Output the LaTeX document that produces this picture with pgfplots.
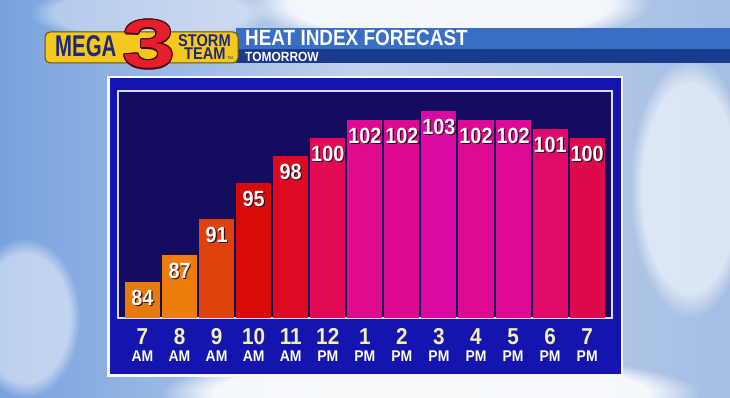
\documentclass[border=0pt]{standalone}
\usepackage{pgfplots}
\pgfplotsset{compat=1.18}
\usepackage{graphicx}
\usepackage{fontspec}
\setmainfont{Liberation Sans}
\newfontfamily\condfont{Liberation Sans}[FakeStretch=0.9]
\usetikzlibrary{fadings}
\definecolor{panelblue}{HTML}{1414AF}
\definecolor{navy}{HTML}{140C5F}
\definecolor{numyel}{HTML}{F2F0B4}
\definecolor{skyL}{HTML}{78A2DE}
\definecolor{skyM}{HTML}{C2D3EA}
\definecolor{skyR}{HTML}{A4BEE4}
\definecolor{titleblue}{HTML}{3A6EC4}
\definecolor{titledark}{HTML}{1A3A8E}
\definecolor{logoyel}{HTML}{F6C81E}
\definecolor{logonavy}{HTML}{1C2A78}
\definecolor{logored}{HTML}{E51E2B}
\definecolor{shadowc}{HTML}{3A0818}
\definecolor{c1}{HTML}{E67A0A}
\definecolor{c2}{HTML}{EE7E0C}
\definecolor{c3}{HTML}{E0420C}
\definecolor{c4}{HTML}{D80A0A}
\definecolor{c5}{HTML}{DE0A24}
\definecolor{c6}{HTML}{E20A55}
\definecolor{c7}{HTML}{E00A8C}
\definecolor{c8}{HTML}{DC0A8E}
\definecolor{c9}{HTML}{D80AA2}
\definecolor{c10}{HTML}{DE0A92}
\definecolor{c11}{HTML}{DE0A94}
\definecolor{c12}{HTML}{E00A68}
\definecolor{c13}{HTML}{DC0A4C}
\newcommand{\shtext}[1]{\makebox[0pt][l]{\hspace{1.2pt}\raisebox{-1.2pt}{\textcolor{shadowc}{#1}}}#1}
\newcommand{\tl}[2]{{\fontsize{23}{17}\selectfont\textcolor{numyel}{#1}}\\{\fontsize{15.5}{17}\selectfont #2}}
\pgfplotsset{hb/.style={fill=#1, draw=none, bar shift=0pt}}
\begin{document}
\begin{tikzpicture}
\useasboundingbox (0pt,0pt) rectangle (730pt,398pt);
% sky
\shade[left color=skyL, right color=skyR, middle color=skyM] (0pt,0pt) rectangle (730pt,398pt);
\fill[white, opacity=0.85, path fading=circle with fuzzy edge 20 percent] (450pt,395pt) ellipse (200pt and 45pt);
\fill[white, opacity=0.9, path fading=circle with fuzzy edge 20 percent] (430pt,5pt) ellipse (270pt and 40pt);
\fill[white, opacity=0.6, path fading=circle with fuzzy edge 20 percent] (690pt,210pt) ellipse (60pt and 130pt);
\fill[white, opacity=0.5, path fading=circle with fuzzy edge 20 percent] (25pt,80pt) ellipse (55pt and 80pt);
\fill[white, opacity=0.4, path fading=circle with fuzzy edge 20 percent] (150pt,385pt) ellipse (120pt and 30pt);
% panel
\fill[white!85!skyM] (107pt,21pt) rectangle (623pt,322pt);
\fill[panelblue] (109.5pt,23.5pt) rectangle (620.5pt,319.5pt);
% title bar
\fill[titleblue] (236pt,349pt) rectangle (730pt,370pt);
\fill[titledark] (236pt,335pt) rectangle (730pt,349pt);
\node[anchor=base west, inner sep=0pt, text=white] at (245pt,352pt)
  {\scalebox{0.86}[1]{\fontsize{22}{22}\selectfont\bfseries HEAT INDEX FORECAST}};
\node[anchor=base west, inner sep=0pt, text=white] at (245pt,336.5pt)
  {\scalebox{0.9}[1]{\fontsize{13.3}{13}\selectfont\bfseries TOMORROW}};
% logo
\draw[fill=logoyel, draw=black!60!logoyel, line width=1pt, rounded corners=5pt] (45pt,335pt) rectangle (238pt,366pt);
\node[anchor=base west, inner sep=0pt, text=logonavy] at (55pt,341pt)
  {\scalebox{0.68}[1]{\fontsize{30}{30}\selectfont\bfseries MEGA}};
\foreach \dx/\dy in {1.3/0,-1.3/0,0/1.3,0/-1.3,1/1,-1/-1,1/-1,-1/1}
  \node[anchor=base, inner sep=0pt, text=black!70!logored] at (149pt+\dx pt,330pt+\dy pt)
    {\scalebox{1.4}[1]{\fontsize{68}{68}\selectfont\bfseries 3}};
\node[anchor=base, inner sep=0pt, text=logored] at (149pt,330pt)
  {\scalebox{1.4}[1]{\fontsize{68}{68}\selectfont\bfseries 3}};
\node[anchor=base west, inner sep=0pt, text=logonavy] at (178pt,351pt)
  {\scalebox{0.86}[1]{\fontsize{17}{17}\selectfont\bfseries STORM}};
\node[anchor=base west, inner sep=0pt, text=logonavy] at (184pt,338pt)
  {\scalebox{0.86}[1]{\fontsize{17}{17}\selectfont\bfseries TEAM}};
\node[anchor=base west, inner sep=0pt, text=logonavy] at (227pt,338pt)
  {\fontsize{4}{4}\selectfont TM};
% chart
\begin{axis}[at={(118pt,80pt)}, anchor=south west, scale only axis,
  width=494pt, height=227pt,
  xmin=-0.66, xmax=12.67, ymin=80, ymax=105.2,
  ybar, bar width=0.945,
  axis background/.style={fill=navy},
  axis line style={white!85!blue, line width=1.3pt},
  ytick=\empty, xtick={0,...,12},
  xticklabels={{\tl{7}{AM}},{\tl{8}{AM}},{\tl{9}{AM}},{\tl{10}{AM}},{\tl{11}{AM}},{\tl{12}{PM}},{\tl{1}{PM}},{\tl{2}{PM}},{\tl{3}{PM}},{\tl{4}{PM}},{\tl{5}{PM}},{\tl{6}{PM}},{\tl{7}{PM}}},
  xticklabel style={align=center, text=white, inner sep=0pt, yshift=-10pt,
    font=\condfont\bfseries\fontsize{15.5}{17}\selectfont},
  major tick length=0pt,
  /pgf/number format/assume math mode=true,
  nodes near coords={\shtext{\pgfmathprintnumber{\pgfplotspointmeta}}},
  every node near coord/.append style={anchor=north, inner sep=0pt, yshift=-8pt,
    font=\condfont\bfseries\fontsize{22}{22}\selectfont, text=white},
  clip=false]
\addplot[hb=c1] coordinates {(0,84)};
\addplot[hb=c2] coordinates {(1,87)};
\addplot[hb=c3] coordinates {(2,91)};
\addplot[hb=c4] coordinates {(3,95)};
\addplot[hb=c5] coordinates {(4,98)};
\addplot[hb=c6] coordinates {(5,100)};
\addplot[hb=c7] coordinates {(6,102)};
\addplot[hb=c8] coordinates {(7,102)};
\addplot[hb=c9] coordinates {(8,103)};
\addplot[hb=c10] coordinates {(9,102)};
\addplot[hb=c11] coordinates {(10,102)};
\addplot[hb=c12] coordinates {(11,101)};
\addplot[hb=c13] coordinates {(12,100)};
\end{axis}
\end{tikzpicture}
\end{document}
